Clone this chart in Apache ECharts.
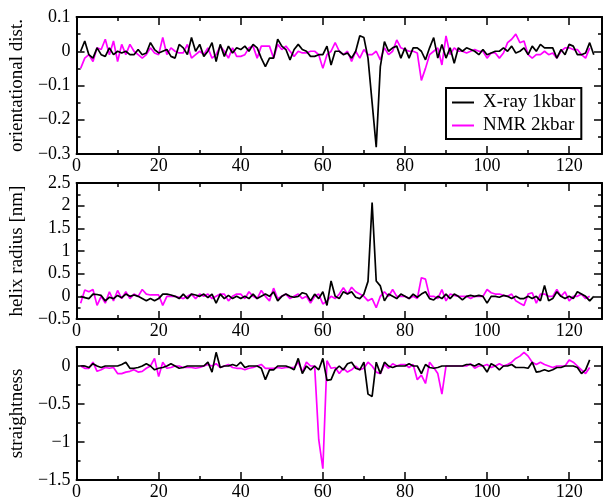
<!DOCTYPE html>
<html>
<head>
<meta charset="utf-8">
<script src="https://cdn.jsdelivr.net/npm/echarts@6/dist/echarts.min.js"></script>
<style>
  html, body { margin: 0; padding: 0; background: #fff; }
  #chart { width: 603px; height: 501px; }
</style>
</head>
<body>
<div id="chart"></div>
<script>
// residue index runs 1..N
const seriesNames = ['X-ray 1kbar', 'NMR 2kbar']
const xTicks = [0, 20, 40, 60, 80, 100, 120]

// orientational dist.
const odXray = [0, 0.03, -0.01, -0.02, 0.01, -0.01, -0.015, 0.01, -0.01, 0,
  -0.005, 0, -0.01, -0.01, 0.005, -0.01, -0.005, 0.025, 0.005, -0.005,
  0, 0.005, -0.015, -0.02, 0.02, 0.01, -0.01, 0.04, 0, 0.02,
  -0.015, 0, 0.025, -0.03, 0.02, -0.015, 0.015, -0.005, 0.01, 0.005,
  0.015, 0, 0.02, 0.01, -0.02, -0.045, -0.02, -0.02, 0.035, 0.015,
  0.005, -0.025, 0.005, 0.02, 0.005, 0, -0.015, -0.015, -0.01, -0.01,
  0.015, -0.04, 0, 0, -0.01, -0.005, -0.02, 0, 0.045, 0.04,
  -0.02, -0.15, -0.28, -0.045, 0.028, 0, 0.01, 0.015, -0.02, 0.01,
  -0.02, 0.01, 0.01, 0, -0.025, 0.01, 0.04, -0.02, 0.02, -0.02,
  0.01, -0.035, 0.01, 0, 0.01, 0.005, 0, -0.01, 0.005, -0.01,
  -0.005, 0, 0, 0.01, 0, 0.015, -0.005, 0, 0.01, -0.01,
  0.015, 0, 0.02, 0.01, 0.01, 0.01, -0.02, 0.005, -0.01, 0.02,
  0.015, -0.01, -0.01, -0.005, 0.025, -0.01]
const odNmr = [-0.05, -0.02, -0.01, -0.03, 0.01, 0.005, 0.035, -0.01, 0.03, -0.03,
  0.02, -0.01, 0.02, 0, -0.01, -0.02, -0.01, 0.01, -0.005, -0.01,
  0.04, -0.01, 0.01, 0, -0.005, -0.005, 0.02, -0.02, -0.01, 0,
  -0.01, 0.01, -0.02, -0.01, 0.015, 0, -0.02, 0.01, -0.015, -0.015,
  -0.01, 0.01, 0.015, -0.02, 0.015, 0.015, 0.015, -0.02, 0.02, 0.005,
  0.015, 0, -0.015, 0, -0.005, -0.005, 0, 0, -0.01, -0.05,
  -0.01, 0, 0.025, 0, -0.01, 0, -0.03, 0, -0.02, 0.005,
  -0.01, -0.01, 0, -0.025, 0.01, -0.01, 0, 0.033, 0.01, 0.005,
  0, 0, -0.005, -0.085, -0.05, -0.01, 0, 0.01, -0.04, 0.045,
  -0.01, 0.01, 0, 0, -0.005, 0, 0.005, 0, 0, -0.02,
  -0.005, -0.005, -0.02, -0.005, 0.025, 0.035, 0.05, 0.025, 0.03, -0.01,
  -0.02, -0.01, -0.01, 0, -0.01, -0.005, -0.02, 0, 0.01, 0.01,
  0.005, 0.005, -0.01, -0.02, 0.01]

// helix radius [nm]
const hrXray = [0, -0.03, -0.05, 0.05, 0.04, 0.02, -0.1, -0.02, -0.05, 0.02,
  -0.03, 0.05, 0, 0.03, 0, -0.05, -0.1, -0.05, -0.1, -0.05,
  0.05, 0.05, 0.03, 0, -0.05, 0.05, -0.05, 0.05, 0.03, 0,
  0.05, -0.03, 0.05, -0.15, 0.05, -0.05, 0.02, -0.05, 0, -0.05,
  0, -0.05, 0.05, -0.05, 0, 0.05, 0, 0.1, -0.1, 0,
  0.05, 0, -0.02, 0, 0.08, 0.05, -0.1, 0.05, -0.05, 0.1,
  -0.2, 0.34, 0, -0.05, 0.1, 0.05, 0.1, -0.02, -0.05, 0.05,
  0.33, 2.07, 0.34, 0.23, -0.1, 0.05, 0, -0.05, 0.05, 0,
  -0.05, 0.05, -0.02, 0.05, 0.1, -0.05, -0.08, 0, -0.05, 0.05,
  -0.05, 0.05, 0, -0.08, 0, 0.02, 0, 0.02, 0, -0.15,
  0, 0, -0.02, 0.02, 0, -0.05, 0, -0.05, -0.05, 0,
  -0.05, 0, -0.1, 0.24, -0.1, -0.05, 0.1, 0, -0.05, 0,
  -0.05, 0.1, 0.05, 0, -0.1, 0]
const hrNmr = [-0.15, 0.14, 0.1, 0.15, -0.2, 0, -0.15, 0.1, -0.1, 0.13,
  -0.05, 0.1, -0.05, 0.05, 0, 0.15, 0.05, 0.03, 0.03, 0.03,
  -0.2, 0, 0, 0, -0.02, -0.05, 0, 0.05, -0.05, 0.05,
  0, 0.05, -0.05, 0, 0.05, 0.05, -0.1, 0, 0.05, 0.05,
  -0.05, 0.1, 0, -0.05, 0.13, 0, -0.1, 0.18, -0.05, 0,
  0.05, -0.05, 0, 0.05, -0.05, 0, -0.15, 0, 0.05, -0.17,
  -0.1, 0, -0.05, 0.05, 0.19, 0.05, 0.2, 0.1, 0.05, 0,
  -0.1, -0.05, -0.25, 0, 0.1, 0, 0.15, 0, 0, 0,
  -0.05, 0, -0.05, 0.41, 0.38, 0, 0, -0.05, 0.15, -0.1,
  0.05, 0.02, 0, 0, 0, -0.05, 0, 0, 0, 0.15,
  0.08, 0.05, 0.05, 0.02, 0, 0.05, -0.1, -0.15, -0.2, 0.05,
  0.08, -0.15, 0.05, 0.05, 0, 0, 0.15, 0, 0.1, -0.1,
  0, 0, 0.05, -0.05, 0]

// straightness
const stXray = [0, 0, -0.02, 0.03, 0, -0.02, 0, 0, 0, 0,
  0.02, 0.05, -0.03, -0.03, -0.02, 0, 0.03, 0, -0.05, -0.03,
  -0.02, 0, 0.03, 0, -0.03, -0.02, 0, 0, 0, 0,
  0, 0.05, -0.08, 0.18, -0.02, 0, 0, 0.02, 0, 0.05,
  -0.02, 0, 0, 0, -0.03, -0.18, -0.05, -0.05, 0, 0,
  0, -0.02, -0.05, 0.1, -0.1, 0, -0.05, 0, -0.05, 0.1,
  -0.19, -0.18, -0.05, 0, -0.05, 0.03, 0.05, -0.03, -0.05, 0.05,
  -0.37, -0.4, 0.05, -0.1, 0.05, 0, -0.02, 0, 0, 0,
  0.03, 0, 0, -0.1, 0.02, -0.02, -0.03, -0.02, 0, 0,
  0, 0, 0, 0, 0.02, 0.02, 0, 0.03, 0, -0.08,
  0.03, 0, -0.05, 0, 0, 0.02, -0.02, -0.02, -0.02, -0.03,
  0.05, -0.08, -0.07, -0.05, -0.07, -0.05, -0.02, -0.02, 0, 0,
  0, -0.02, -0.1, -0.05, 0.08]
const stNmr = [0, -0.03, -0.03, 0.05, -0.07, -0.05, -0.02, -0.03, -0.02, -0.1,
  -0.1, -0.08, -0.07, -0.05, -0.08, -0.07, -0.03, 0, 0.1, -0.14,
  0.05, -0.03, -0.02, 0, 0, -0.02, -0.02, -0.02, -0.03, -0.02,
  0, 0.02, 0, 0.03, -0.02, 0, 0.02, -0.02, -0.03, -0.03,
  -0.05, -0.03, -0.02, 0, 0.02, -0.03, -0.03, -0.03, -0.02, -0.03,
  -0.02, -0.02, -0.02, 0.05, -0.08, 0.05, 0, 0, -0.97, -1.35,
  0.07, -0.03, -0.02, -0.1, -0.03, -0.08, -0.05, 0, -0.05, -0.03,
  0.05, 0, -0.08, -0.1, 0.02, -0.03, 0.03, 0, 0.02, 0.02,
  -0.02, 0.02, -0.18, -0.12, -0.23, 0.05, -0.02, -0.1, -0.37, 0,
  0, 0, 0, 0, 0, 0.03, -0.03, 0, 0, 0.02,
  -0.02, 0, 0.03, 0, 0.02, 0.05, 0.1, 0.13, 0.18, 0.13,
  0.05, 0.02, 0.05, 0.02, 0, -0.02, 0, 0, 0, 0.08,
  0.05, 0, -0.05, -0.1, -0.02]

const FONT = 'Liberation Serif'
const toPairs = arr => arr.map((v, i) => [i + 1, v])
// typeset minus like the original plot
const fmtY = v => String(+v.toFixed(2)).replace('-', '\u2212')

// panel geometry (px)
const panels = [
  { top: 17, height: 137, min: -0.3, max: 0.1, step: 0.1, showMax: true, name: 'orientational dist.', data: [odXray, odNmr] },
  { top: 183, height: 136, min: -0.5, max: 2.5, step: 0.5, showMax: true, name: 'helix radius [nm]', data: [hrXray, hrNmr] },
  { top: 347, height: 137, min: -1.5, max: 0.25, step: 0.5, showMax: false, name: 'straightness', data: [stXray, stNmr] }
]

const grid = []
const xAxis = []
const yAxis = []
const series = []
const colors = ['#000000', '#ff00ff']

panels.forEach((p, k) => {
  grid.push({ left: 61, width: 541, top: p.top, height: p.height })
  const tick = { show: true, inside: true, length: 8, lineStyle: { color: '#000', width: 1.5 } }
  const minor = { show: true, splitNumber: 2, length: 4, lineStyle: { color: '#000', width: 1.5 } }
  const line = { show: true, onZero: false, lineStyle: { color: '#000', width: 2 } }
  // bottom + top x axes
  xAxis.push({
    type: 'value', gridIndex: k, min: 0, max: 128, interval: 20, position: 'bottom',
    axisLine: line, axisTick: tick, minorTick: minor, splitLine: { show: false },
    axisLabel: { show: true, margin: 3, showMaxLabel: false, color: '#000', fontFamily: FONT, fontSize: 18,
      formatter: v => (xTicks.indexOf(v) >= 0 ? String(v) : '') }
  })
  xAxis.push({
    type: 'value', gridIndex: k, min: 0, max: 128, interval: 20, position: 'top',
    axisLine: line, axisTick: tick, minorTick: minor, splitLine: { show: false },
    axisLabel: { show: false }
  })
  // left + right y axes
  yAxis.push({
    type: 'value', gridIndex: k, min: p.min, max: p.max, interval: p.step, position: 'left',
    name: p.name, nameLocation: 'middle', nameGap: 37,
    nameTextStyle: { color: '#000', fontFamily: FONT, fontSize: 19 },
    axisLine: line, axisTick: tick, minorTick: minor, splitLine: { show: false },
    axisLabel: { show: true, margin: 6, showMaxLabel: p.showMax, color: '#000', fontFamily: FONT, fontSize: 18, formatter: fmtY }
  })
  yAxis.push({
    type: 'value', gridIndex: k, min: p.min, max: p.max, interval: p.step, position: 'right',
    axisLine: line, axisTick: tick, minorTick: minor, splitLine: { show: false },
    axisLabel: { show: false }
  })
  p.data.forEach((arr, j) => {
    series.push({
      name: seriesNames[j], type: 'line', xAxisIndex: k * 2, yAxisIndex: k * 2,
      data: toPairs(arr), showSymbol: false, symbol: 'none',
      lineStyle: { color: colors[j], width: 1.7 }, itemStyle: { color: colors[j] },
      z: j === 0 ? 3 : 2
    })
  })
})

const chart = echarts.init(document.getElementById('chart'), null, { renderer: 'canvas' })
chart.setOption({
  animation: false,
  backgroundColor: '#fff',
  grid,
  xAxis,
  yAxis,
  legend: {
    data: seriesNames, orient: 'vertical', left: 446, top: 88,
    borderColor: '#000', borderWidth: 2, padding: [5, 6, 4, 6], itemGap: 4,
    itemWidth: 22, itemHeight: 2, icon: 'rect', backgroundColor: '#fff',
    textStyle: { color: '#000', fontFamily: FONT, fontSize: 19, padding: [0, 0, 0, 4] }
  },
  series
})
</script>
</body>
</html>
